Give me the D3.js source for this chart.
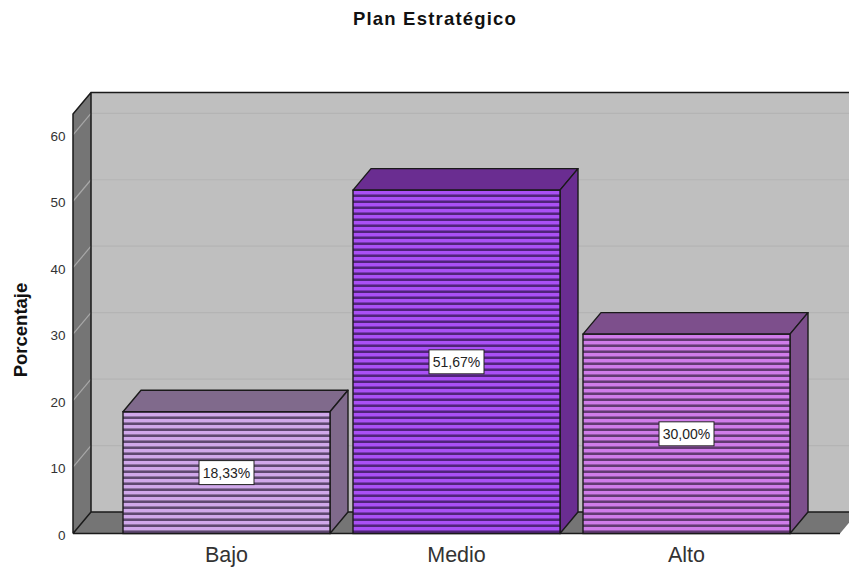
<!DOCTYPE html>
<html><head><meta charset="utf-8"><script src="https://cdn.jsdelivr.net/npm/d3@7"></script>
<style>html,body{margin:0;padding:0;background:#fff}svg{display:block}text{font-family:Arial,"Liberation Sans",sans-serif}</style>
</head><body><svg id="c" width="849" height="567"></svg>
<script>
const categories=["Bajo","Medio","Alto"];
const values=[18.33,51.67,30.00];
const valueLabels=["18,33%","51,67%","30,00%"];
const yTicks=[0,10,20,30,40,50,60];
const lightColors=["#d0a8ea","#aa50f5","#d07cea"];
const midColors=["#8f74a2","#7a38b4","#9458a8"];
const darkColors=["#5e4870","#50247a","#623a72"];
const sideColors=["#806a8c","#6a2d91","#7d4f8c"];
const W=849,H=567,dx=18,dy=21.5;
const svg=d3.select("#c");
const y=d3.scaleLinear().domain([0,60]).range([533.5,134.8]);
const yTop=114;
const x=d3.scaleBand().domain(categories).range([123,790]).paddingInner(0.1);
const x0=73,x1=840;
const pts=a=>a.map(p=>p.join(",")).join(" ");
svg.append("rect").attr("x",x0+dx).attr("y",yTop-dy).attr("width",W-x0-dx).attr("height",y(0)-yTop).attr("fill","#bfbfbf");
svg.append("polygon").attr("points",pts([[x0,yTop],[x0+dx,yTop-dy],[x0+dx,y(0)-dy],[x0,y(0)]])).attr("fill","#757575");
svg.append("polygon").attr("points",pts([[x0,y(0)],[x0+dx,y(0)-dy],[x1+dx,y(0)-dy],[x1,y(0)]])).attr("fill","#757575");
const gt=yTicks.filter(d=>d>0);
svg.selectAll(".g1").data(gt).join("line").attr("x1",x0+dx).attr("x2",W).attr("y1",d=>y(d)-dy).attr("y2",d=>y(d)-dy).attr("stroke","#b4b4b4").attr("stroke-width",1.2);
svg.selectAll(".g2").data(gt).join("line").attr("x1",x0).attr("x2",x0+dx).attr("y1",d=>y(d)).attr("y2",d=>y(d)-dy).attr("stroke","#a8a8a8").attr("stroke-width",1.2);
const stroke="#1a1a1a";
svg.append("path").attr("d",`M${x0},${y(0)}V${yTop}L${x0+dx},${yTop-dy}H${W}M${x0+dx},${yTop-dy}V${y(0)-dy}H${W}M${x0},${y(0)}L${x0+dx},${y(0)-dy}M${x0},${y(0)}H${x1}`).attr("fill","none").attr("stroke",stroke).attr("stroke-width",1.5);
const defs=svg.append("defs");
categories.forEach((c,i)=>{
  const py=Math.round(y(values[i]))+1;
  const p=defs.append("pattern").attr("id","s"+i).attr("patternUnits","userSpaceOnUse").attr("width",8).attr("height",6).attr("y",py);
  p.append("rect").attr("width",8).attr("height",6).attr("fill",lightColors[i]);
  p.append("rect").attr("y",3).attr("width",8).attr("height",1).attr("fill",midColors[i]);
  p.append("rect").attr("y",4).attr("width",8).attr("height",2).attr("fill",darkColors[i]);
});
const bars=svg.selectAll(".bar").data(categories).join("g");
bars.each(function(c,i){
  const g=d3.select(this),l=x(c),r=l+x.bandwidth(),t=y(values[i]),b=y(0);
  g.append("polygon").attr("points",pts([[l,t],[l+dx,t-dy],[r+dx,t-dy],[r,t]])).attr("fill",sideColors[i]).attr("stroke",stroke).attr("stroke-width",1.4).attr("stroke-linejoin","round");
  g.append("polygon").attr("points",pts([[r,t],[r+dx,t-dy],[r+dx,b-dy],[r,b]])).attr("fill",sideColors[i]).attr("stroke",stroke).attr("stroke-width",1.4).attr("stroke-linejoin","round");
  g.append("rect").attr("x",l).attr("y",t).attr("width",x.bandwidth()).attr("height",b-t).attr("fill",`url(#s${i})`).attr("stroke",stroke).attr("stroke-width",1.4);
  const cx=l+x.bandwidth()/2,cy=y(values[i]/2);
  g.append("rect").attr("x",cx-27.5).attr("y",cy-12).attr("width",55).attr("height",24).attr("fill","#fff").attr("stroke","#222").attr("stroke-width",1);
  g.append("text").attr("x",cx).attr("y",cy+5.5).attr("text-anchor","middle").attr("font-size",14).attr("fill","#222").text(valueLabels[i]);
});
svg.selectAll(".yt").data(yTicks).join("text").attr("x",65.5).attr("y",d=>y(d)+6).attr("text-anchor","end").attr("font-size",13.5).attr("fill","#333").text(d=>d);
svg.selectAll(".xt").data(categories).join("text").attr("x",c=>x(c)+x.bandwidth()/2).attr("y",561.5).attr("text-anchor","middle").attr("font-size",21.5).attr("fill","#333").text(c=>c);
svg.append("text").attr("transform","translate(27,330) rotate(-90)").attr("text-anchor","middle").attr("font-size",18.5).attr("font-weight","bold").attr("fill","#111").text("Porcentaje");
svg.append("text").attr("x",435).attr("y",25).attr("text-anchor","middle").attr("font-size",18.5).attr("letter-spacing",1.2).attr("font-weight","bold").attr("fill","#111").text("Plan Estratégico");
</script></body></html>
